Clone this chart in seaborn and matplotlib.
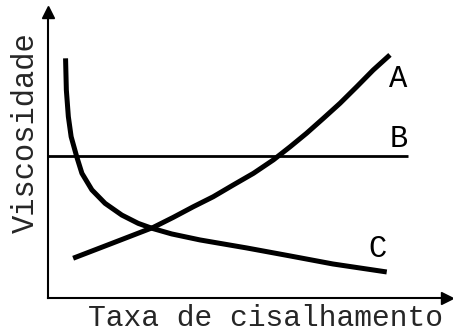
import numpy as np
import pandas as pd
import matplotlib
matplotlib.use("Agg")
import matplotlib.pyplot as plt
import seaborn as sns

# Curva A - viscosidade cresce com a taxa (dilatante)
a_x = [0.63, 1.60, 2.64, 3.14, 3.64, 4.14, 4.64, 5.15, 5.65, 6.07, 6.48,
       6.90, 7.32, 7.74, 8.15, 8.57]
a_y = [1.39, 1.91, 2.47, 2.82, 3.19, 3.54, 3.95, 4.36, 4.83, 5.29, 5.76,
       6.28, 6.81, 7.39, 7.97, 8.50]

# Curva B - viscosidade constante (newtoniano)
b_x = [0.0, 9.03]
b_y = [4.96, 4.96]

# Curva C - viscosidade cai com a taxa (pseudoplástico)
c_x = [0.44, 0.46, 0.51, 0.58, 0.72, 0.85, 1.10, 1.43, 1.85, 2.26, 2.60,
       3.10, 3.81, 4.98, 6.07, 7.14, 8.49]
c_y = [8.38, 7.27, 6.34, 5.64, 4.94, 4.36, 3.78, 3.31, 2.90, 2.61, 2.44,
       2.24, 2.03, 1.75, 1.47, 1.19, 0.91]

rotulos = ["A", "B", "C"]
rotulos_x = [8.55, 8.55, 8.02]
rotulos_y = [7.66, 5.56, 1.71]

sns.set_style("white")
plt.rcParams["font.family"] = ["Liberation Mono", "DejaVu Sans Mono"]

fig = plt.figure(figsize=(4.53, 3.31), dpi=100)
ax = fig.add_axes([48 / 453, 33 / 331, 399 / 453, 286 / 331])

df_a = pd.DataFrame({"x": a_x, "y": a_y})
df_b = pd.DataFrame({"x": b_x, "y": b_y})
df_c = pd.DataFrame({"x": c_x, "y": c_y})

sns.lineplot(data=df_a, x="x", y="y", sort=False, color="black", lw=3.6, ax=ax)
sns.lineplot(data=df_b, x="x", y="y", sort=False, color="black", lw=2.0, ax=ax)
sns.lineplot(data=df_c, x="x", y="y", sort=False, color="black", lw=3.6, ax=ax)
for line in ax.get_lines():
    line.set_solid_capstyle("butt")
    line.set_solid_joinstyle("round")

for r, x, y in zip(rotulos, rotulos_x, rotulos_y):
    ax.text(x, y, r, fontsize=22, ha="left", va="center", color="black")

ax.set_xlim(0, 10)
ax.set_ylim(0, 10)
ax.set_xticks([])
ax.set_yticks([])
ax.set_xlabel("")
ax.set_ylabel("")
for s in ["top", "right"]:
    ax.spines[s].set_visible(False)
for s in ["left", "bottom"]:
    ax.spines[s].set_linewidth(1.5)
    ax.spines[s].set_color("black")

# setas nos eixos
ax.plot(1, 0, ">k", markersize=9, transform=ax.transAxes, clip_on=False)
ax.plot(0, 1, "^k", markersize=9, transform=ax.transAxes, clip_on=False)

fig.text(266 / 453, 1 - 318 / 331, "Taxa de cisalhamento", fontsize=21.3,
         ha="center", va="center")
fig.text(26 / 453, 1 - 133 / 331, "Viscosidade", fontsize=22,
         ha="center", va="center", rotation=90)

fig.savefig("out.png", dpi=100)
